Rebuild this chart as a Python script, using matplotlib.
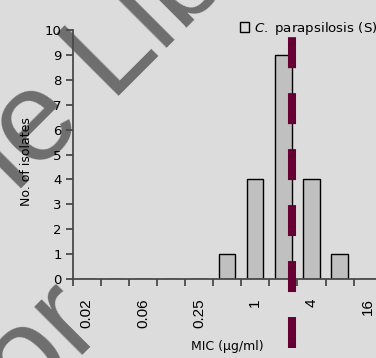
"""MIC distribution histogram for C. parapsilosis isolates"""

import numpy as np
import matplotlib
matplotlib.use("Agg")
import matplotlib.pyplot as plt

plt.rcParams["lines.scale_dashes"] = False
plt.rcParams["mathtext.fontset"] = "custom"
plt.rcParams["mathtext.it"] = "DejaVu Sans:italic"

# MIC classes (ug/ml) and number of isolates in each
mic_labels = ["0.02", "0.03", "0.06", "0.125", "0.25", "0.5", "1", "2", "4", "8", "16"]
isolates = [0, 0, 0, 0, 0, 1, 4, 9, 4, 1, 0]
series_name = r"$\mathit{C.}$ parapsilosis (S)"

# breakpoint marker, in category units
breakpoint_x = 7.3

bg = "#dcdcdc"
W, H = 376, 358
fig = plt.figure(figsize=(W / 100, H / 100), dpi=100, facecolor=bg)


def px(x, y):
    # pixel position (from top-left) -> figure fraction
    return x / W, 1 - y / H


# background watermark
wm = dict(fontsize=92, color="#6e6e6e", rotation=45, rotation_mode="anchor",
          family="Liberation Sans", va="baseline", zorder=-5)
fig.text(*px(86, 124), "Wiley Online", ha="right", **wm)
fig.text(*px(108, 96), "Library", ha="left", **wm)
fig.text(*px(104, 323), "For", ha="right", **wm)

ax = fig.add_axes([72.7 / W, 79 / H, 309 / W, 249 / H])
ax.set_facecolor("none")

x = np.arange(len(mic_labels))
ax.bar(x, isolates, width=0.58, color="#c0c0c0", edgecolor="black",
       linewidth=1.0, label=series_name, zorder=2)

ax.set_xlim(-0.5, len(mic_labels) - 0.5)
ax.set_ylim(0, 10)

for side in ["top", "right"]:
    ax.spines[side].set_visible(False)
for side in ["left", "bottom"]:
    ax.spines[side].set_color("#4a4a4a")
    ax.spines[side].set_linewidth(1.3)

# tick marks sit between categories, labels on every other class
ax.set_xticks(np.arange(len(mic_labels) + 1) - 0.5)
ax.set_xticklabels([])
ax.set_xticks(x[::2], minor=True)
ax.set_xticklabels(mic_labels[::2], minor=True, rotation=90,
                   family="Liberation Sans", fontsize=11)
ax.tick_params(axis="x", which="major", length=5, width=1.3, color="#4a4a4a")
ax.tick_params(axis="x", which="minor", length=0, pad=14)

ax.set_yticks(range(0, 11))
ax.tick_params(axis="y", length=5, width=1.3, color="#4a4a4a", labelsize=9.5, pad=3)

ax.set_ylabel("No. of isolates", fontsize=9)
ax.yaxis.set_label_coords(-0.13, 0.47)
ax.set_xlabel("MIC (µg/ml)", fontsize=9)
ax.xaxis.set_label_coords(0.5, -0.245)

# breakpoint
ax.plot([breakpoint_x, breakpoint_x], [-2.77, 9.72], color="#660033",
        linewidth=5.8, dashes=(22.3, 18), solid_capstyle="butt",
        clip_on=False, zorder=4)

leg = ax.legend(loc="upper left", bbox_to_anchor=px(240, 20),
                bbox_transform=fig.transFigure, frameon=False, fontsize=9.6,
                handlelength=0.7, handleheight=0.75, handletextpad=0.35,
                borderpad=0, borderaxespad=0)
leg.get_patches()[0].set_facecolor(bg)

fig.savefig("out.png", dpi=100, facecolor=bg)
